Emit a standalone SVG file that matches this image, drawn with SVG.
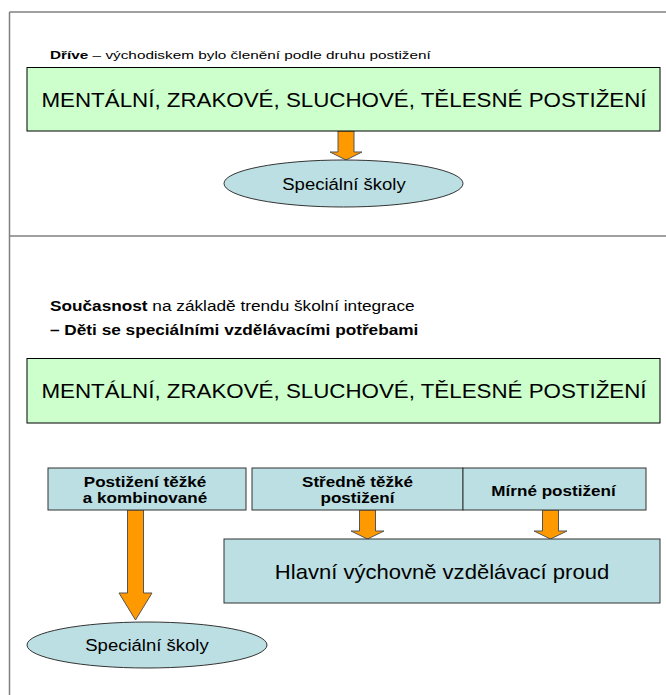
<svg xmlns="http://www.w3.org/2000/svg" width="666" height="695" viewBox="0 0 666 695">
<style>
text{font-family:"Liberation Sans",Arial,sans-serif;fill:#000}
.frame{stroke:#808080;stroke-width:1.5;fill:none}
.green{fill:#CCFFCC;stroke:#000;stroke-width:1}
.teal{fill:#BBDFE2;stroke:#333;stroke-width:1}
.arrow{fill:#FF9900;stroke:#555;stroke-width:1}
.big{font-size:19.6px}
.lbl{font-size:14px;font-weight:bold}
.hdr{font-size:14px}
.ell{font-size:17px}
.mid{text-anchor:middle}
</style>
<rect width="666" height="695" fill="#fff"/>
<g id="frame">
<line class="frame" x1="9.5" y1="12" x2="666" y2="12"/>
<line class="frame" x1="9.5" y1="12" x2="9.5" y2="695"/>
<line class="frame" x1="9.5" y1="236" x2="666" y2="236"/>
</g>
<g id="heading-before">
<text transform="matrix(1.3,0,0,1,50,58.5)" font-size="11.8"><tspan font-weight="bold">Dříve</tspan> – východiskem bylo členění podle druhu postižení</text>
</g>
<g id="heading-now">
<text class="hdr" transform="matrix(1.23,0,0,1,50,311)"><tspan font-weight="bold">Současnost</tspan> na základě trendu školní integrace</text>
<text class="hdr" transform="matrix(1.23,0,0,1,50,335)" font-weight="bold">– Děti se speciálními vzdělávacími potřebami</text>
</g>
<g id="connectors">
<path class="arrow" d="M338,131 H354 V152 H362 L346,160 L330,152 H338 Z"/>
<path class="arrow" d="M127.5,510 H143.5 V593 H152 L135.5,620 L119,593 H127.5 Z"/>
<path class="arrow" d="M359.5,510 H375.5 V531 H384 L367.5,539 L351,531 H359.5 Z"/>
<path class="arrow" d="M542.5,510 H558.5 V531 H567 L550.5,539 L534,531 H542.5 Z"/>
</g>
<g id="types-before">
<rect class="green" x="27" y="67.5" width="633" height="63.5"/>
<text class="big mid" transform="matrix(1.14,0,0,1,344,106.5)">MENTÁLNÍ, ZRAKOVÉ, SLUCHOVÉ, TĚLESNÉ POSTIŽENÍ</text>
</g>
<g id="special-schools-before">
<ellipse class="teal" cx="343.5" cy="183.5" rx="119.5" ry="23.5"/>
<text class="ell mid" transform="matrix(1.09,0,0,1,344,189.5)">Speciální školy</text>
</g>
<g id="types-now">
<rect class="green" x="27" y="358.5" width="633" height="64.5"/>
<text class="big mid" transform="matrix(1.14,0,0,1,344,397.5)">MENTÁLNÍ, ZRAKOVÉ, SLUCHOVÉ, TĚLESNÉ POSTIŽENÍ</text>
</g>
<g id="severe">
<rect class="teal" x="48" y="468" width="198" height="42"/>
<text class="lbl mid" transform="matrix(1.22,0,0,1,145,487)">Postižení těžké</text>
<text class="lbl mid" transform="matrix(1.22,0,0,1,145,503)">a kombinované</text>
</g>
<g id="moderate">
<rect class="teal" x="252" y="468" width="211" height="42"/>
<text class="lbl mid" transform="matrix(1.22,0,0,1,357.5,487)">Středně těžké</text>
<text class="lbl mid" transform="matrix(1.22,0,0,1,357.5,503)">postižení</text>
</g>
<g id="mild">
<rect class="teal" x="463" y="468" width="183" height="42"/>
<text class="lbl mid" transform="matrix(1.22,0,0,1,553.5,496)">Mírné postižení</text>
</g>
<g id="mainstream">
<rect class="teal" x="224" y="539" width="436" height="64"/>
<text class="mid" font-size="21" transform="matrix(1.05,0,0,1,442,578.5)">Hlavní výchovně vzdělávací proud</text>
</g>
<g id="special-schools-now">
<ellipse class="teal" cx="147" cy="645" rx="120" ry="23"/>
<text class="ell mid" transform="matrix(1.09,0,0,1,147,651)">Speciální školy</text>
</g>
</svg>
